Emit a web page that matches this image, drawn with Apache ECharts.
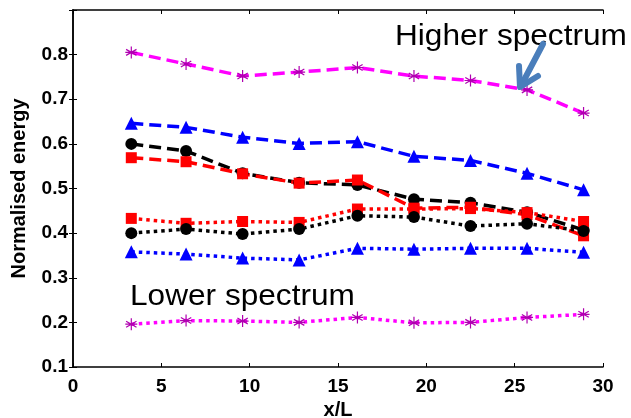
<!DOCTYPE html>
<html><head><meta charset="utf-8">
<script src="https://cdn.jsdelivr.net/npm/echarts@6/dist/echarts.min.js"></script>
<style>html,body{margin:0;padding:0;background:#fff}#c{width:631px;height:418px}</style>
</head><body><div id="c"></div>
<script>
var xPos = [3.3, 6.4, 9.6, 12.8, 16.1, 19.3, 22.5, 25.7, 28.9];
var magentaHigh = [0.805, 0.779, 0.752, 0.761, 0.771, 0.752, 0.742, 0.721, 0.669];
var blueHigh    = [0.646, 0.637, 0.615, 0.601, 0.605, 0.572, 0.563, 0.534, 0.497];
var blackHigh   = [0.600, 0.584, 0.534, 0.513, 0.508, 0.476, 0.468, 0.447, 0.407];
var redHigh     = [0.569, 0.560, 0.533, 0.512, 0.519, 0.456, 0.458, 0.441, 0.394];
var redLow      = [0.433, 0.422, 0.426, 0.424, 0.454, 0.454, 0.455, 0.446, 0.426];
var blackLow    = [0.400, 0.409, 0.398, 0.409, 0.439, 0.436, 0.416, 0.421, 0.405];
var blueLow     = [0.358, 0.353, 0.344, 0.340, 0.366, 0.364, 0.366, 0.366, 0.357];
var magentaLow  = [0.196, 0.204, 0.203, 0.200, 0.211, 0.199, 0.200, 0.211, 0.218];
var yTicks = [0.1, 0.2, 0.3, 0.4, 0.5, 0.6, 0.7, 0.8];

function pairs(v){ return xPos.map(function(x,i){ return [x, v[i]]; }); }
var star = 'path://M0,-10L0,10M-8.66,-5L8.66,5M-8.66,5L8.66,-5M-10,0L10,0';
var DASH = [12, 6], DOT = [3.5, 4];
function mk(name, data, color, dash, symbol, size, symColor){
  return {
    name: name, type: 'line', data: pairs(data), symbol: symbol, symbolSize: size,
    lineStyle: {color: color, width: 3.5, type: dash},
    itemStyle: symbol === star ? {color: 'none', borderColor: symColor, borderWidth: 1.2} : {color: color},
    z: 3, animation: false
  };
}
var chart = echarts.init(document.getElementById('c'));
var FONT = 'Liberation Sans, Arial';
var tickStyle = {fontFamily: FONT, fontWeight: 'bold', fontSize: 19, color: '#000'};
chart.setOption({
  animation: false,
  grid: {left: 73, right: 28, top: 10, bottom: 51, containLabel: false, outerBoundsMode: 'none'},
  xAxis: [{
    type: 'value', min: 0, max: 30, interval: 5,
    axisLine: {lineStyle: {color: '#000', width: 1.5}},
    axisTick: {inside: true, length: 4, lineStyle: {color: '#000'}},
    splitLine: {show: false},
    axisLabel: Object.assign({margin: 10}, tickStyle),
    name: 'x/L', nameLocation: 'middle', nameGap: 32,
    nameTextStyle: {fontFamily: FONT, fontWeight: 'bold', fontSize: 20, color: '#000'}
  }, {
    type: 'value', position: 'top', min: 0, max: 30, interval: 5,
    axisLine: {show: true, lineStyle: {color: '#000', width: 1.5}},
    axisTick: {inside: true, length: 4, lineStyle: {color: '#000'}},
    axisLabel: {show: false}, splitLine: {show: false}
  }],
  yAxis: [{
    type: 'value', min: 0.1, max: 0.9, interval: 0.1,
    axisLine: {show: true, lineStyle: {color: '#000', width: 1.5}},
    axisTick: {inside: true, length: 4, lineStyle: {color: '#000'}},
    splitLine: {show: false},
    axisLabel: Object.assign({margin: 5, formatter: function(v){
      var r = Math.round(v*10)/10;
      return yTicks.indexOf(r) >= 0 ? r.toFixed(1) : '';
    }}, tickStyle),
    name: 'Normalised energy', nameLocation: 'middle', nameGap: 44,
    nameTextStyle: {fontFamily: FONT, fontWeight: 'bold', fontSize: 20, color: '#000'}
  }, {
    type: 'value', position: 'right', min: 0.1, max: 0.9, interval: 0.1,
    axisLine: {show: true, lineStyle: {color: '#000', width: 1.5}},
    axisTick: {inside: true, length: 4, lineStyle: {color: '#000'}},
    axisLabel: {show: false}, splitLine: {show: false}
  }],
  series: [
    mk('mh', magentaHigh, '#ff00ff', DASH, star, 12, '#b000b0'),
    mk('bh', blueHigh, '#0000ff', DASH, 'triangle', 13),
    mk('kh', blackHigh, '#000000', DASH, 'circle', 12),
    mk('rh', redHigh, '#ff0000', DASH, 'rect', 11),
    mk('rl', redLow, '#ff0000', DOT, 'rect', 11),
    mk('kl', blackLow, '#000000', DOT, 'circle', 12),
    mk('bl', blueLow, '#0000ff', DOT, 'triangle', 13),
    mk('ml', magentaLow, '#ff00ff', DOT, star, 12, '#b000b0')
  ],
  graphic: [
    {type: 'text', x: 395, y: 37, scaleX: 1.09, z: 10, style: {text: 'Higher spectrum', x: 0, y: 0, verticalAlign: 'middle', textVerticalAlign: 'middle', fontFamily: FONT, fontSize: 29, fill: '#000'}},
    {type: 'text', x: 130, y: 297, scaleX: 1.09, z: 10, style: {text: 'Lower spectrum', x: 0, y: 0, verticalAlign: 'middle', textVerticalAlign: 'middle', fontFamily: FONT, fontSize: 29, fill: '#000'}},
    {type: 'line', z: 11, shape: {x1: 543, y1: 44, x2: 523, y2: 82}, style: {stroke: '#4a7ebb', lineWidth: 6, lineCap: 'round'}},
    {type: 'polyline', z: 11, shape: {points: [[519, 66], [520, 87], [538, 76]]}, style: {stroke: '#4a7ebb', lineWidth: 6, fill: null, lineCap: 'round', lineJoin: 'round'}}
  ]
});
</script></body></html>
